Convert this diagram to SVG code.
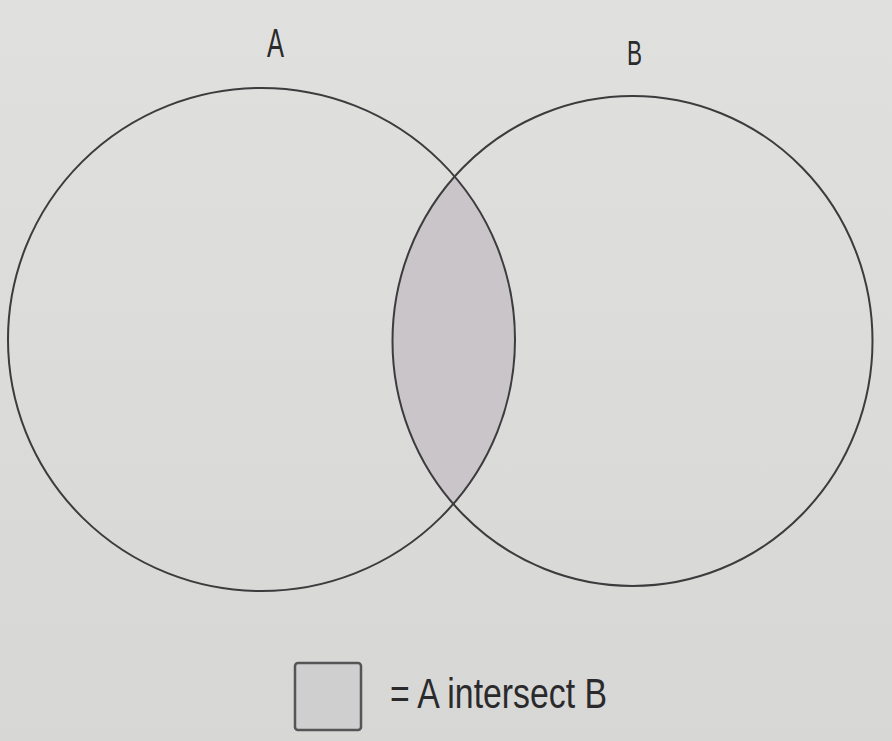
<svg xmlns="http://www.w3.org/2000/svg" width="892" height="741" viewBox="0 0 892 741">
<style>
.set{fill:none;stroke:#3c3b3d;stroke-width:2}
.lbl{font-family:"Liberation Sans",Arial,sans-serif;fill:#2a2a2c}
</style>
<defs>
<linearGradient id="bg" x1="0" y1="0" x2="0" y2="1">
<stop offset="0" stop-color="#e0e0de"/>
<stop offset="1" stop-color="#d7d7d5"/>
</linearGradient>
<clipPath id="clipA"><ellipse cx="261.5" cy="339.5" rx="253.5" ry="251.5"/></clipPath>
</defs>
<rect x="0" y="0" width="892" height="741" fill="url(#bg)"/>
<g id="intersection">
<ellipse cx="632.5" cy="341" rx="240" ry="245" fill="#c9c5c8" clip-path="url(#clipA)"/>
</g>
<g id="setA">
<ellipse class="set" cx="261.5" cy="339.5" rx="253.5" ry="251.5"/>
<text class="lbl" x="267" y="57" font-size="40" textLength="17" lengthAdjust="spacingAndGlyphs">A</text>
</g>
<g id="setB">
<ellipse class="set" cx="632.5" cy="341" rx="240" ry="245"/>
<text class="lbl" x="627" y="65" font-size="35" textLength="15" lengthAdjust="spacingAndGlyphs">B</text>
</g>
<g id="legend">
<rect x="295" y="663" width="66" height="67" rx="3" fill="#d0cfcf" stroke="#555457" stroke-width="2.5"/>
<text class="lbl" x="390" y="708" font-size="43" textLength="217" lengthAdjust="spacingAndGlyphs">= A intersect B</text>
</g>
</svg>
